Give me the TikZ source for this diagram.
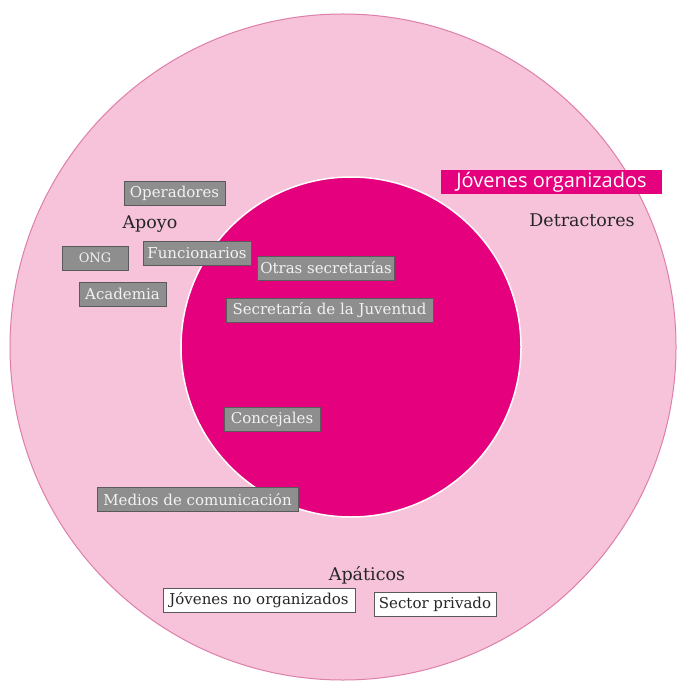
\documentclass[tikz,border=0pt]{standalone}
\usepackage{fontspec}
\setmainfont{DejaVu Serif}
\newfontfamily\labelsans{Open Sans}
\definecolor{ringpink}{HTML}{F6C3DA}
\definecolor{ringline}{HTML}{DE7FAA}
\definecolor{coremag}{HTML}{E5007E}
\definecolor{tagfill}{HTML}{8E8E8E}
\definecolor{tagline}{HTML}{5A5A5A}
\definecolor{tagtext}{HTML}{F2F2F2}
\begin{document}
\begin{tikzpicture}[x=1pt, y=-1pt, every node/.style={font=\fontsize{15}{17}\selectfont},
  tag/.style={draw=tagline, fill=tagfill, text=tagtext, line width=0.9pt, minimum height=24pt, inner xsep=3pt, inner ysep=0pt},
  plain/.style={draw=black!65, fill=white, text=black!85, line width=0.7pt, minimum height=24pt, inner xsep=3pt, inner ysep=0pt},
  group/.style={text=black!85, inner sep=0pt, font=\fontsize{17.5}{20}\selectfont}]
  \useasboundingbox[fill=white] (0,0) rectangle (681,684);
  % rings
  \fill[ringpink, draw=ringline, line width=1pt] (343,347) circle (333);
  \fill[coremag, draw=white, line width=1.5pt] (351,347) circle (170);
  % support side
  \node[tag, minimum width=101pt] (oper) at (174.5,193.5) {Operadores};
  \node[group] (apoyo) at (150,224) {Apoyo};
  \node[tag, minimum width=66pt] (ong) at (95,258) {\fontsize{13}{15}\selectfont ONG};
  \node[tag, minimum width=108pt] (func) at (197,253.5) {Funcionarios};
  \node[tag, minimum width=87pt] (acad) at (122.5,294) {Academia};
  \node[tag, minimum width=136pt] (otras) at (326,268) {Otras secretarías};
  \node[tag, minimum width=207pt] (sjuv) at (329.5,310.5) {Secretaría de la Juventud};
  \node[tag, minimum width=96pt] (conc) at (272,419) {Concejales};
  \node[tag, minimum width=201pt] (medios) at (197.5,499.5) {Medios de comunicación};
  % detractors
  \node[fill=coremag, text=white, minimum width=221pt, minimum height=24pt, inner sep=0pt,
    font=\labelsans\fontsize{20}{22}\selectfont] (jorg) at (551.5,182) {Jóvenes organizados};
  \node[group] (detr) at (582,220) {Detractores};
  % apathetic
  \node[group] (apat) at (367,575) {Apáticos};
  \node[plain, minimum width=192pt] (jnorg) at (259,600.5) {Jóvenes no organizados};
  \node[plain, minimum width=122pt] (priv) at (435,604.5) {Sector privado};
\end{tikzpicture}
\end{document}
